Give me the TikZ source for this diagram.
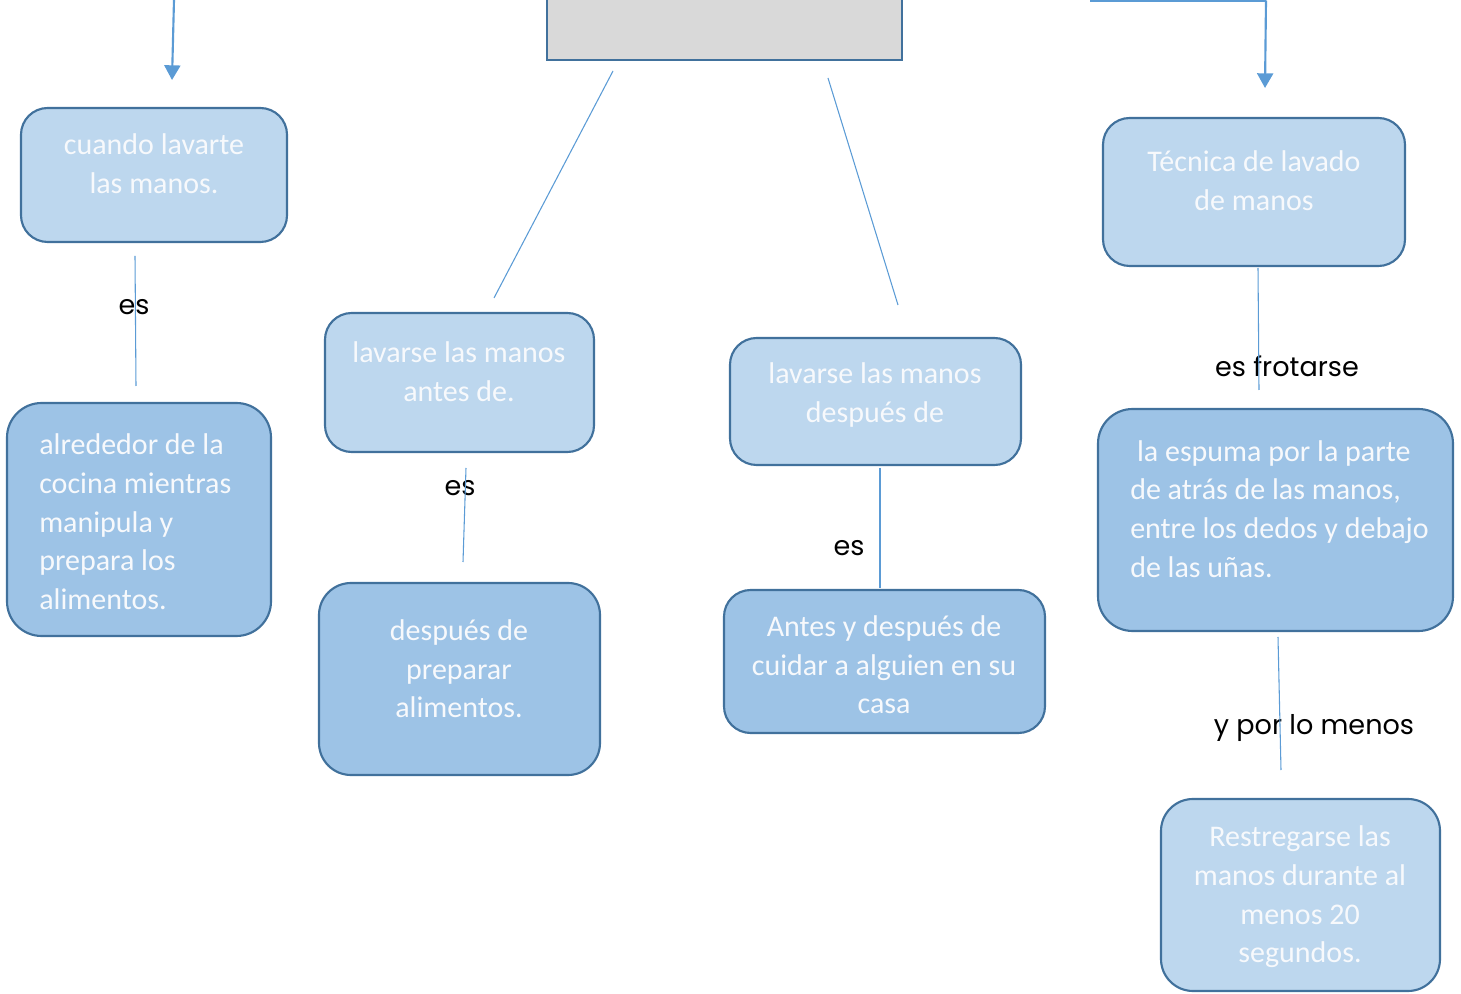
\documentclass[tikz,border=0pt]{standalone}
\usepackage{fontspec}
\setmainfont{Carlito}
\newfontfamily\lblfont{Poppins}
\usetikzlibrary{arrows.meta}
\definecolor{lightfill}{HTML}{BDD7EE}
\definecolor{darkfill}{HTML}{9DC3E6}
\definecolor{boxborder}{HTML}{41719C}
\definecolor{linecol}{HTML}{5B9BD5}
\definecolor{graybox}{HTML}{D9D9D9}
\definecolor{txtcol}{HTML}{F7F9FC}
\tikzset{
  boxbase/.style={draw=boxborder, line width=1.6pt, rounded corners=20pt, inner sep=0pt},
  lightbox/.style={boxbase, fill=lightfill},
  darkbox/.style={boxbase, fill=darkfill},
  boxtxt/.style={text=txtcol, font=\fontsize{22.5}{29}\selectfont, inner sep=0pt},
  conn/.style={draw=linecol, line width=0.8pt},
  arr/.style={draw=linecol, line width=1.6pt, -{Triangle[length=11pt,width=12pt]}},
  lbl/.style={font=\lblfont\fontsize{20.3}{24}\selectfont, text=black, inner sep=0pt},
}
\begin{document}
\begin{tikzpicture}[x=0.75pt,y=-0.75pt]
\useasboundingbox (0,0) rectangle (1461,994);
% gray top box
\node[draw=boxborder, line width=1.6pt, fill=graybox, minimum width=355*0.75pt, minimum height=100*0.75pt, inner sep=0pt] (top) at (724.5,10) {};
% boxes
\node[lightbox, minimum width=266*0.75pt, minimum height=134*0.75pt] (b1) at (154,175) {};
\node[boxtxt, align=center] (t1) at (154,164) {cuando lavarte\\las manos.};
\node[lightbox, minimum width=269*0.75pt, minimum height=139*0.75pt] (b2) at (459.5,382.5) {};
\node[boxtxt, align=center] (t2) at (459,372) {lavarse las manos\\antes de.};
\node[lightbox, minimum width=291*0.75pt, minimum height=127*0.75pt] (b3) at (875.5,401.5) {};
\node[boxtxt, align=center] (t3) at (875,395) {lavarse las manos\\después de};
\node[lightbox, minimum width=302*0.75pt, minimum height=148*0.75pt] (b4) at (1254,192) {};
\node[boxtxt, align=center] (t4) at (1254,181) {Técnica de lavado\\de manos};
\node[darkbox, minimum width=264*0.75pt, minimum height=233*0.75pt, rounded corners=26pt] (b5) at (139,519.5) {};
\node[boxtxt, align=left, anchor=west] (t5) at (39,522) {alrededor de la\\cocina mientras\\manipula y\\prepara los\\alimentos.};
\node[darkbox, minimum width=281*0.75pt, minimum height=192*0.75pt, rounded corners=24pt] (b6) at (459.5,679) {};
\node[boxtxt, align=center] (t6) at (459,669) {después de\\preparar\\alimentos.};
\node[darkbox, minimum width=321*0.75pt, minimum height=143*0.75pt] (b7) at (884.5,661.5) {};
\node[boxtxt, align=center] (t7) at (884,665) {Antes y después de\\cuidar a alguien en su\\casa};
\node[darkbox, minimum width=355*0.75pt, minimum height=222*0.75pt, rounded corners=26pt] (b8) at (1275.5,520) {};
\node[boxtxt, align=left, anchor=west] (t8) at (1130,509) {\ la espuma por la parte\\de atrás de las manos,\\entre los dedos y debajo\\de las uñas.};
\node[lightbox, minimum width=279*0.75pt, minimum height=192*0.75pt, rounded corners=24pt] (b9) at (1300.5,895) {};
\node[boxtxt, align=center] (t9) at (1300,897) {Restregarse las\\manos durante al\\menos 20\\segundos.};
% connector coordinates
\coordinate (a1s) at (174,0);
\coordinate (a1e) at (172,80);
\coordinate (a2a) at (1090,0.5);
\coordinate (a2b) at (1266,0.5);
\coordinate (a2e) at (1265,88);
\coordinate (c1s) at (613,71);
\coordinate (c1e) at (494,298);
\coordinate (c2s) at (828,78);
\coordinate (c2e) at (898,305);
\coordinate (e1s) at (135,256);
\coordinate (e1e) at (136,386);
\coordinate (e2s) at (466,468);
\coordinate (e2e) at (463,562);
\coordinate (e3s) at (880,468);
\coordinate (e3e) at (880,588);
\coordinate (e4s) at (1258,268);
\coordinate (e4e) at (1259,390);
\coordinate (e5s) at (1278,637);
\coordinate (e5e) at (1281,770);
% arrows
\draw[arr] (a1s) -- (a1e);
\draw[linecol, line width=1.6pt] (a2a) -- (a2b);
\draw[arr] (a2b) -- (a2e);
% lines
\draw[conn] (c1s) -- (c1e);
\draw[conn] (c2s) -- (c2e);
% labels
\node[lbl] (l1) at (134,307) {es};
\node[lbl] (l2) at (460,488) {es};
\node[lbl] (l3) at (849,548) {es};
\node[lbl] (l4) at (1287,366) {es frotarse};
\node[lbl] (l5) at (1314,728) {y por lo menos};
\draw[conn] (e1s) -- (e1e);
\draw[conn] (e2s) -- (e2e);
\draw[conn] (e3s) -- (e3e);
\draw[conn] (e4s) -- (e4e);
\draw[conn] (e5s) -- (e5e);
\end{tikzpicture}
\end{document}
